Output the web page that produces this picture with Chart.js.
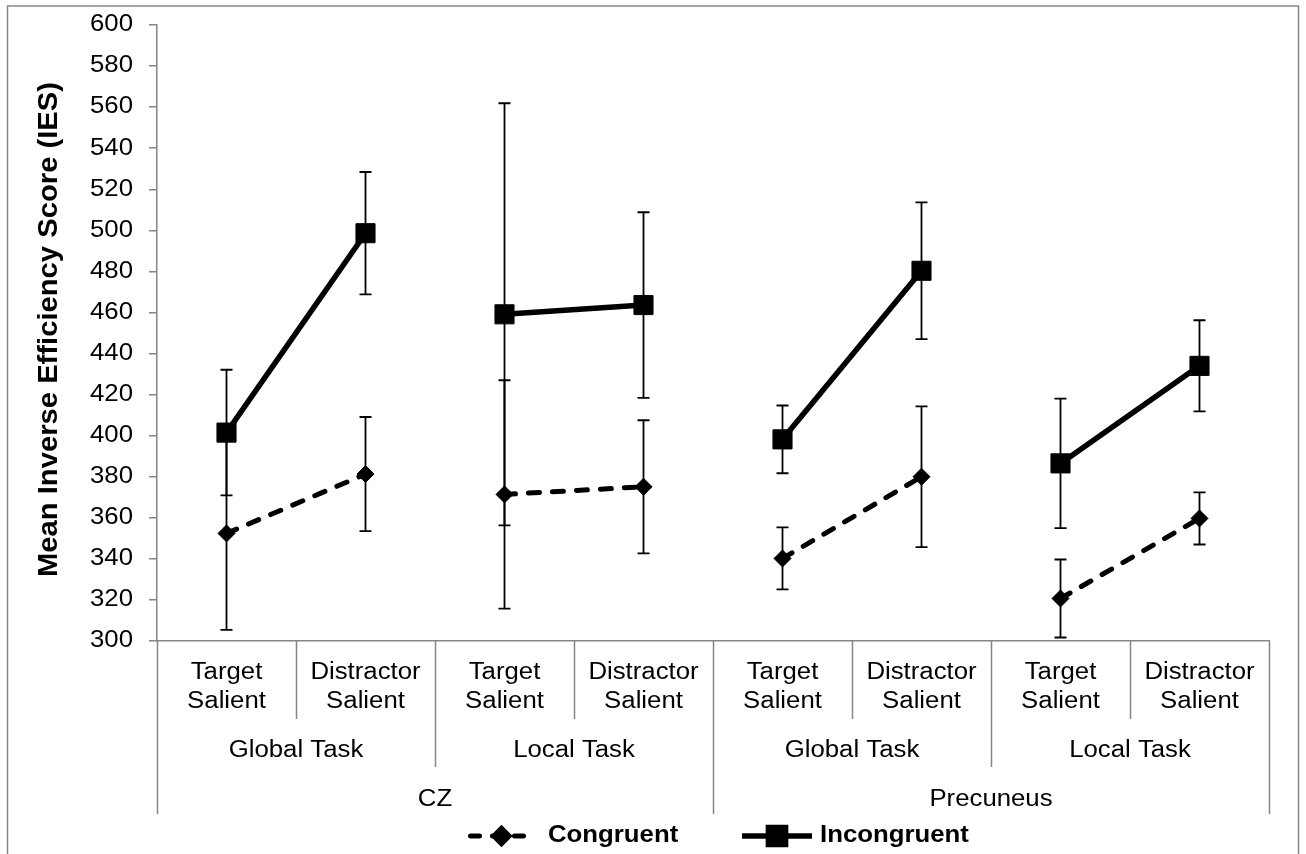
<!DOCTYPE html>
<html>
<head>
<meta charset="utf-8">
<script src="https://cdn.jsdelivr.net/npm/chart.js@4"></script>
<style>
  html, body { margin: 0; padding: 0; background: #fff; }
  #wrap { width: 1306px; height: 854px; position: relative; }
</style>
</head>
<body>
<div id="wrap"><canvas id="myChart"></canvas></div>
<script>
  // bottom row of the category axis, one per point
  const conditions = [
    ['Target', 'Salient'], ['Distractor', 'Salient'],
    ['Target', 'Salient'], ['Distractor', 'Salient'],
    ['Target', 'Salient'], ['Distractor', 'Salient'],
    ['Target', 'Salient'], ['Distractor', 'Salient'],
  ];
  const tasks = ['Global Task', 'Local Task', 'Global Task', 'Local Task'];
  const regions = ['CZ', 'Precuneus'];

  const congruent      = [352.4, 381.3, 371.4, 375.1, 340.2, 380.0, 320.7, 359.7];
  const congruentErr   = [47.0, 27.8, 55.6, 32.4, 15.1, 34.3, 19.0, 12.7];
  const incongruent    = [401.5, 498.6, 459.1, 463.6, 398.2, 480.3, 386.5, 434.0];
  const incongruentErr = [30.6, 29.8, 102.8, 45.2, 16.5, 33.3, 31.5, 22.2];

  const yTicks = { min: 300, max: 600, step: 20 };
  const yTitle = 'Mean Inverse Efficiency Score (IES)';

  const GREY = '#868686';
  const FONT = '"Liberation Sans", Arial, sans-serif';
  const SX = 1.12; // the source text is a little wide

  function text(ctx, str, x, y, align, font, sx) {
    ctx.save();
    ctx.font = font;
    ctx.fillStyle = '#000';
    ctx.textAlign = align;
    ctx.textBaseline = 'middle';
    ctx.translate(x, y);
    ctx.scale(sx || SX, 1);
    ctx.fillText(str, 0, 0);
    ctx.restore();
  }

  // pairs only: break the line between the two conditions of the next task
  const pairSegment = color => ({
    borderColor: ctx => ctx.p0DataIndex % 2 === 1 ? 'transparent' : color,
  });

  const data = {
    labels: conditions,
    datasets: [{
      label: 'Congruent',
      data: congruent,
      errors: congruentErr,
      borderColor: '#000',
      backgroundColor: '#000',
      borderWidth: 5,
      borderDash: [11, 13],
      borderCapStyle: 'round',
      pointStyle: 'rectRot',
      pointRadius: 8.5,
      pointBorderWidth: 1,
      segment: pairSegment('#000'),
      tension: 0,
    }, {
      label: 'Incongruent',
      data: incongruent,
      errors: incongruentErr,
      borderColor: '#000',
      backgroundColor: '#000',
      borderWidth: 5.5,
      pointStyle: 'rect',
      pointRadius: 13.5,
      pointBorderWidth: 1,
      segment: pairSegment('#000'),
      tension: 0,
    }]
  };

  const errorBars = {
    id: 'errorBars',
    beforeDatasetsDraw(chart) {
      const ctx = chart.ctx, x = chart.scales.x, y = chart.scales.y;
      ctx.save();
      ctx.strokeStyle = '#000';
      ctx.lineWidth = 1.8;
      chart.data.datasets.forEach(ds => {
        ds.data.forEach((v, i) => {
          const px = x.getPixelForValue(i);
          const top = y.getPixelForValue(v + ds.errors[i]);
          const bot = y.getPixelForValue(v - ds.errors[i]);
          ctx.beginPath();
          ctx.moveTo(px, top); ctx.lineTo(px, bot);
          ctx.moveTo(px - 6, top); ctx.lineTo(px + 6, top);
          ctx.moveTo(px - 6, bot); ctx.lineTo(px + 6, bot);
          ctx.stroke();
        });
      });
      ctx.restore();
    }
  };

  const frame = {
    id: 'frame',
    beforeDraw(chart) {
      const ctx = chart.ctx;
      ctx.save();
      ctx.fillStyle = '#fff';
      ctx.fillRect(0, 0, chart.width, chart.height);
      ctx.strokeStyle = GREY;
      ctx.lineWidth = 1.5;
      ctx.strokeRect(7.5, 6, 1291, 900);
      ctx.restore();
    },
    afterDraw(chart) {
      const ctx = chart.ctx, x = chart.scales.x, y = chart.scales.y;
      const area = chart.chartArea;

      // y tick labels and title
      y.ticks.forEach(t => {
        text(ctx, String(t.value), 133, y.getPixelForValue(t.value), 'right', '23px ' + FONT);
      });
      ctx.save();
      ctx.font = 'bold 28px ' + FONT;
      const w = ctx.measureText(yTitle).width;
      ctx.translate(49.5, (82 + 577) / 2);
      ctx.rotate(-Math.PI / 2);
      ctx.scale(495 / w, 1);
      ctx.fillStyle = '#000';
      ctx.textAlign = 'center';
      ctx.textBaseline = 'middle';
      ctx.fillText(yTitle, 0, 0);
      ctx.restore();

      // multi-level category axis
      const n = conditions.length;
      const step = x.getPixelForValue(1) - x.getPixelForValue(0);
      const edge = i => x.getPixelForValue(i) - step / 2;
      ctx.save();
      ctx.strokeStyle = GREY;
      ctx.lineWidth = 1.5;
      for (let i = 0; i <= n; i++) {
        const bottom = i % 4 === 0 ? 814 : (i % 2 === 0 ? 767 : 719);
        const px = Math.round(edge(i)) + 0.5;
        ctx.beginPath();
        ctx.moveTo(px, area.bottom);
        ctx.lineTo(px, bottom);
        ctx.stroke();
      }
      ctx.restore();

      conditions.forEach((lines, i) => {
        const px = x.getPixelForValue(i);
        text(ctx, lines[0], px, 673, 'center', '23px ' + FONT);
        text(ctx, lines[1], px, 702, 'center', '23px ' + FONT);
      });
      tasks.forEach((t, k) => {
        text(ctx, t, (edge(2 * k) + edge(2 * k + 2)) / 2, 751, 'center', '23px ' + FONT);
      });
      regions.forEach((r, k) => {
        text(ctx, r, (edge(4 * k) + edge(4 * k + 4)) / 2, 800, 'center', '23px ' + FONT);
      });

      // legend
      const ly = 836;
      const items = [
        { ds: chart.data.datasets[0], x0: 468, x1: 535, tx: 548 },
        { ds: chart.data.datasets[1], x0: 742, x1: 812, tx: 820 },
      ];
      items.forEach(it => {
        ctx.save();
        ctx.strokeStyle = '#000';
        ctx.lineWidth = it.ds.borderWidth;
        ctx.lineCap = it.ds.borderCapStyle || 'butt';
        ctx.setLineDash(it.ds.borderDash ? [9, 13] : []);
        ctx.beginPath();
        ctx.moveTo(it.x0 + (it.ds.borderDash ? 2.5 : 0), ly);
        ctx.lineTo(it.x1, ly);
        ctx.stroke();
        ctx.setLineDash([]);
        ctx.fillStyle = '#000';
        Chart.helpers.drawPoint(ctx, {
          pointStyle: it.ds.pointStyle,
          radius: it.ds.pointRadius * 0.9,
          borderWidth: 1,
        }, (it.x0 + it.x1) / 2, ly);
        ctx.restore();
        text(ctx, it.ds.label, it.tx, ly, 'left', 'bold 23px ' + FONT);
      });
    }
  };

  const config = {
    type: 'line',
    data,
    options: {
      responsive: true,
      maintainAspectRatio: false,
      animation: false,
      layout: { padding: { top: 25, right: 37, left: 0, bottom: 0 } },
      plugins: {
        legend: { display: false },
        tooltip: { enabled: false },
      },
      scales: {
        x: {
          type: 'category',
          offset: true,
          grid: { display: false },
          ticks: { display: false },
          border: { display: true, color: GREY, width: 1.5 },
          afterFit: s => { s.height = 213; },
        },
        y: {
          min: yTicks.min,
          max: yTicks.max,
          ticks: { display: false, stepSize: yTicks.step },
          grid: { drawOnChartArea: false, drawTicks: true, tickLength: 8, color: GREY, lineWidth: 1.5 },
          border: { display: true, color: GREY, width: 1.5 },
          afterFit: s => { s.width = 157; },
        },
      },
    },
    plugins: [frame, errorBars],
  };

  var myChart = new Chart(document.getElementById('myChart'), config);
</script>
</body>
</html>
